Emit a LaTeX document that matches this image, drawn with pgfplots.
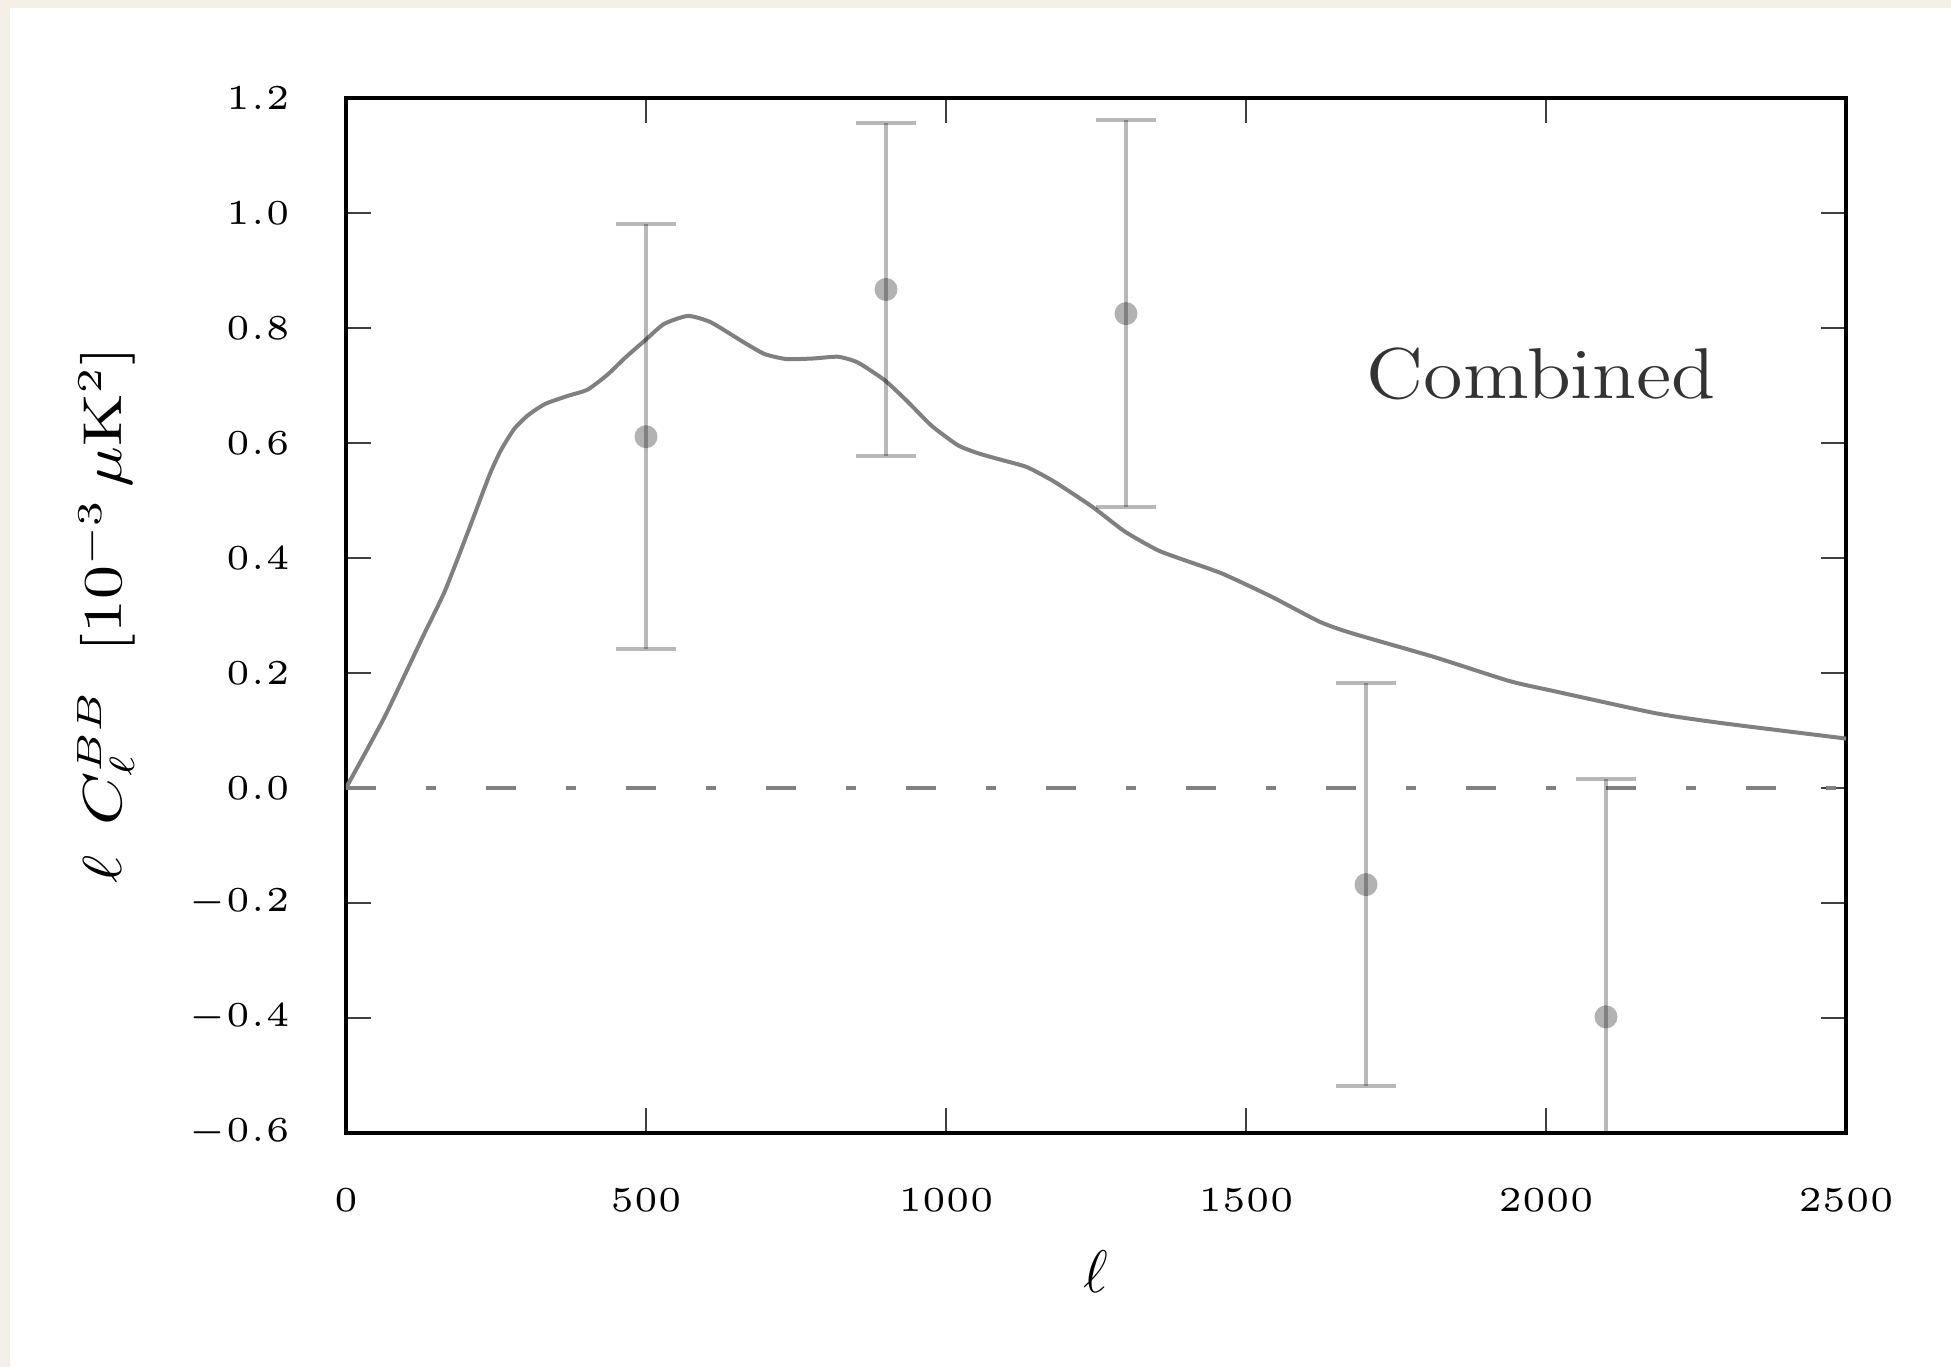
\documentclass[border=0pt]{standalone}
\usepackage{pgfplots}
\pgfplotsset{compat=1.18}
\definecolor{bgbeige}{RGB}{244,240,232}
\definecolor{curvegray}{RGB}{128,128,128}
\pgfplotstableread{
l v
0 0
64 0.123
128 0.263
165 0.343
206 0.453
239 0.544
258 0.587
280 0.624
303 0.648
332 0.668
370 0.682
403 0.693
436 0.719
466 0.749
500 0.780
530 0.807
570 0.821
608 0.810
660 0.777
697 0.755
734 0.746
779 0.747
820 0.750
853 0.740
898 0.709
935 0.673
976 0.630
1020 0.596
1054 0.582
1091 0.571
1135 0.558
1180 0.533
1244 0.489
1298 0.446
1352 0.414
1390 0.399
1460 0.373
1542 0.333
1623 0.289
1677 0.269
1813 0.228
1939 0.186
2011 0.169
2183 0.130
2292 0.113
2500 0.086
}\curvedata
\pgfplotstableread{
x y e
500 0.611 0.370
900 0.867 0.290
1300 0.825 0.337
1700 -0.168 0.350
2100 -0.398 0.413
}\pointdata
\begin{document}
\begin{tikzpicture}
\useasboundingbox (-69.2pt,-46.8pt) rectangle (321pt,226.6pt);
\fill[bgbeige] (-69.2pt,-46.8pt) rectangle (321pt,226.6pt);
\fill[white] (-67.2pt,-46.8pt) rectangle (321pt,225pt);
\begin{axis}[
  at={(0pt,0pt)}, anchor=south west,
  scale only axis, width=300pt, height=207pt,
  xmin=0, xmax=2500, ymin=-0.6, ymax=1.2,
  xtick={0,500,1000,1500,2000,2500},
  ytick={-0.6,-0.4,-0.2,0,0.2,0.4,0.6,0.8,1.0,1.2},
  x tick label style={/pgf/number format/1000 sep={}},
  y tick label style={/pgf/number format/fixed, /pgf/number format/fixed zerofill, /pgf/number format/precision=1},
  ticklabel style={font=\fontsize{5}{6}\selectfont, scale=1.4},
  xticklabel style={yshift=-4.4pt},
  yticklabel style={xshift=-4.5pt},
  tick align=inside, major tick length=5pt,
  tick style={line width=0.25pt, black!75},
  axis line style={line width=0.9pt, black},
  xlabel={$\ell$},
  ylabel={$\ell\;\,C_\ell^{BB}\;\;[10^{-3}\,\mu\mathrm{K}^2]$},
  every axis x label/.style={at={(axis description cs:0.5,-0.134)}, anchor=center, font=\fontsize{11.5}{13}\selectfont},
  every axis y label/.style={at={(axis description cs:-0.16,0.5)}, rotate=90, xscale=1.24, anchor=center, font=\fontsize{10.5}{12}\selectfont},
  clip=true,
]
\addplot[curvegray, line width=0.9pt, dash pattern=on 6pt off 10pt on 2pt off 10pt] coordinates {(0,0) (2500,0)};
\addplot[curvegray, line width=0.8pt, smooth, tension=0.35] table[x=l, y=v] {\curvedata};
\addplot[only marks, mark=*, mark size=2.3pt, mark options={draw opacity=0, fill=black, fill opacity=0.3},
  error bars/.cd, y dir=both, y explicit,
  error bar style={line width=0.8pt, black, opacity=0.28},
  error mark options={line width=0.8pt, black, opacity=0.28, mark size=6pt, rotate=90}]
  table[x=x, y=y, y error=e] {\pointdata};
\node[anchor=base, xscale=1.12, font=\fontsize{14.4}{17}\selectfont, text=black!80] at (axis cs:1992,0.677) {Combined};
\end{axis}
\end{tikzpicture}
\end{document}
